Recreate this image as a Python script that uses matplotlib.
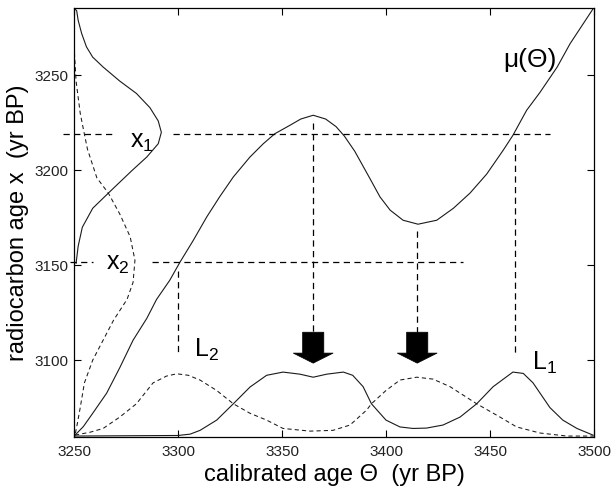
import matplotlib
matplotlib.use("Agg")
import matplotlib.pyplot as plt

plt.rcParams['font.family'] = ['Liberation Sans', 'DejaVu Sans']
plt.rcParams['mathtext.fontset'] = 'custom'
plt.rcParams['mathtext.rm'] = 'Liberation Sans'
plt.rcParams['mathtext.it'] = 'Liberation Sans'

# calibration curve mu(theta)
mu_theta = [3250.5, 3254.5, 3259, 3265.7, 3272, 3278.4, 3285, 3289.7, 3296, 3301,
            3307.3, 3313.8, 3320, 3326.6, 3334.6, 3341, 3346.6, 3353.8, 3359, 3365,
            3371, 3376, 3380, 3385, 3392.3, 3397.1, 3402, 3408.2, 3415.4, 3424.4,
            3432.4, 3440.4, 3448.4, 3456.3, 3461, 3467.6, 3474, 3482.3, 3488.5, 3499.5]
mu_c14 = [3060.5, 3065, 3072, 3082.6, 3096, 3110.5, 3122, 3132, 3142, 3151.7,
          3163, 3175.4, 3186, 3196.5, 3207, 3214, 3219.3, 3223.7, 3227, 3229,
          3227, 3223, 3218, 3210, 3195.6, 3186, 3179, 3173.7, 3171.6, 3173.7,
          3180, 3188, 3198, 3210.5, 3218.4, 3231.6, 3241, 3254.4, 3266.7, 3285]

# measurement densities drawn sideways along the left axis
x1_theta = [3250.5, 3251.3, 3252, 3253.7, 3256, 3259, 3264, 3272, 3280, 3286.5,
            3290.5, 3292, 3290.5, 3285, 3278, 3267, 3259, 3254, 3252, 3251]
x1_dens_c14 = [3285, 3284, 3279, 3272, 3265, 3259.6, 3254.4, 3247, 3240.5, 3233,
               3226, 3220, 3214, 3207, 3200, 3188.5, 3180, 3170, 3160, 3151]
x2_theta = [3250.2, 3251, 3253, 3255, 3256.5, 3261, 3266.5, 3272, 3277, 3279.3,
            3278.4, 3275.5, 3269, 3264, 3259, 3255, 3253, 3251.5, 3250.5]
x2_dens_c14 = [3262, 3247, 3230, 3219, 3211, 3196, 3188, 3177, 3165, 3152.6,
               3141, 3132, 3121, 3110.5, 3100, 3088, 3075, 3066, 3060.5]

# likelihoods along the bottom axis
L1_theta = [3250, 3300, 3305.8, 3310.6, 3318.6, 3326.6, 3334.6, 3342.6, 3350.5, 3358.6,
            3365, 3371.5, 3379.5, 3384, 3389, 3393, 3400, 3406.7, 3413, 3419.5,
            3427.4, 3435.6, 3443.6, 3451.5, 3461, 3466, 3470.7, 3478.8, 3485, 3491.8, 3499.5]
L1_vals = [3060, 3060.3, 3061, 3063, 3068.4, 3077, 3085.8, 3092, 3093.7, 3092.6,
           3091, 3092.6, 3093.7, 3092, 3086, 3077, 3068.4, 3064.8, 3064, 3064.2,
           3065.8, 3070, 3077, 3086, 3093.7, 3093, 3088, 3075, 3068.4, 3064, 3060.5]
L2_theta = [3250.5, 3257.7, 3264, 3272, 3280, 3288, 3294.5, 3299.4, 3305, 3310.6,
            3318.6, 3326.6, 3334.6, 3342.6, 3350.5, 3363.5, 3374.5, 3382.7, 3390.7, 3393,
            3400, 3406.7, 3414.8, 3422.6, 3430.8, 3443.6, 3454.8, 3462.8, 3474, 3487, 3500]
L2_vals = [3060.5, 3062, 3064, 3070, 3077, 3088, 3091.6, 3092.8, 3092, 3089.5,
           3084, 3077, 3072, 3068.4, 3064, 3062.6, 3063, 3065.8, 3073.7, 3077,
           3084, 3089.5, 3091, 3090, 3086, 3077, 3070, 3064.8, 3061.6, 3060, 3060]

# measured radiocarbon ages and where they hit the curve
x1_c14 = 3219.3
x2_c14 = 3151.7
theta_L2 = 3300
theta_peak = 3365
theta_trough = 3415
theta_L1 = 3462

xticks = [3250, 3300, 3350, 3400, 3450, 3500]
yticks = [3100, 3150, 3200, 3250]

fig = plt.figure(figsize=(6.11, 4.97), dpi=100)
ax = fig.add_axes([74 / 611, 1 - 437 / 497, 520 / 611, 429 / 497])

curve = dict(color='#1a1a1a', lw=0.8)
dcurve = dict(color='#1a1a1a', lw=0.75, linestyle=(0, (4, 3)))
guide = dict(color='k', lw=0.9, linestyle=(0, (5, 3.5)), clip_on=False)

ax.plot(mu_theta, mu_c14, **curve)
ax.plot(x1_theta, x1_dens_c14, **curve)
ax.plot(x2_theta, x2_dens_c14, **dcurve)
ax.plot(L1_theta, L1_vals, **curve)
ax.plot(L2_theta, L2_vals, **dcurve)

# horizontal guides
ax.plot([3244.7, 3268.3], [x1_c14, x1_c14], **guide)
ax.plot([3297.6, 3478.8], [x1_c14, x1_c14], **guide)
ax.plot([3248, 3259], [x2_c14, x2_c14], **guide)
ax.plot([3287.3, 3437], [x2_c14, x2_c14], **guide)

# vertical guides
ax.plot([theta_L2, theta_L2], [3147, 3104.4], **guide)
ax.plot([theta_peak, theta_peak], [3225, 3115], **guide)
ax.plot([theta_trough, theta_trough], [3168, 3115], **guide)
ax.plot([theta_L1, theta_L1], [3214, 3102.6], **guide)

for th in [theta_peak, theta_trough]:
    ax.arrow(th, 3114.7, 0, -16.3, width=10.2, head_width=19.2, head_length=5.3,
             length_includes_head=True, fc='k', ec='k', lw=0.5)

lab = dict(fontsize=18, color='k')
ax.text(3276.9, 3211.6, r'$\mathregular{x_1}$', ha='left', va='baseline', **lab)
ax.text(3265.4, 3147.4, r'$\mathregular{x_2}$', ha='left', va='baseline', **lab)
ax.text(3307.7, 3101.6, r'$\mathregular{L_2}$', ha='left', va='baseline', **lab)
ax.text(3470, 3094.7, r'$\mathregular{L_1}$', ha='left', va='baseline', **lab)
ax.text(3469, 3258, 'μ(Θ)', ha='center', va='center', fontsize=19, color='k')

ax.set_xlim(3250, 3500)
ax.set_ylim(3059.5, 3285.5)
ax.set_xticks(xticks)
ax.set_yticks(yticks)
ax.tick_params(direction='in', top=True, right=True, length=5, width=0.8,
               labelsize=11, labelcolor='#222222')
ax.tick_params(axis='x', pad=6)
ax.tick_params(axis='y', pad=4)
for s in ax.spines.values():
    s.set_linewidth(0.9)

ax.set_xlabel('calibrated age Θ  (yr BP)', fontsize=17, labelpad=3)
ax.set_ylabel('radiocarbon age x  (yr BP)', fontsize=17, labelpad=4)

fig.savefig('out.png', dpi=100)
